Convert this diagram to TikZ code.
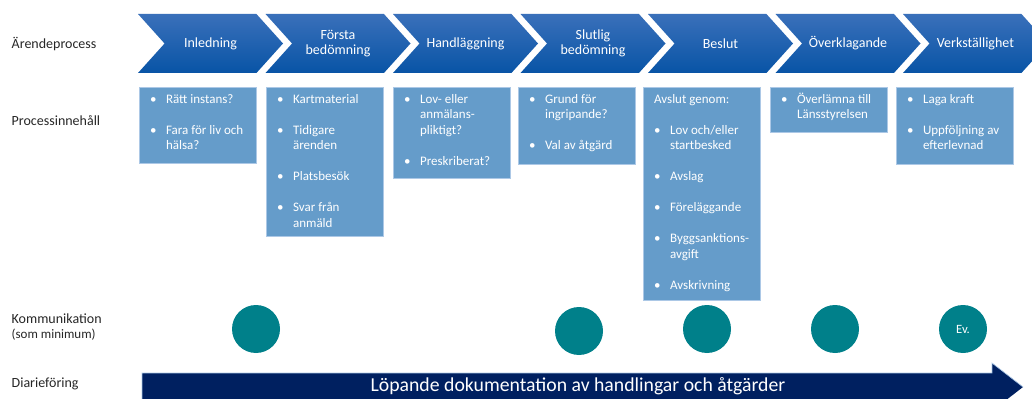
\documentclass[tikz,border=0pt]{standalone}
\usepackage{fontspec}
\setmainfont{Carlito}
\usetikzlibrary{shapes.symbols, positioning, calc}
\definecolor{FasTopp}{RGB}{58,112,186}
\definecolor{FasBotten}{RGB}{8,84,166}
\definecolor{LadaBla}{RGB}{101,156,202}
\definecolor{LadaKant}{RGB}{172,200,230}
\definecolor{KommTeal}{RGB}{0,128,138}
\definecolor{DiarieNavy}{RGB}{0,32,96}
\definecolor{EtikettGra}{RGB}{38,38,38}
\newcommand{\punkt}[1]{\par\hangindent=12pt\hangafter=1\noindent\strut\makebox[12pt][l]{\textbullet}#1\strut}
\newcommand{\mellan}{\par\vspace{11.6pt}}
\newcommand{\ladtext}[2]{\parbox[t][\dimexpr#1-7.8pt\relax][t]{87.75pt}{\fontsize{9.75}{11.6}\selectfont\raggedright\leftskip=8pt #2}}
\tikzset{
    fas/.style={
        signal, signal from=west, signal to=east, signal pointer angle=96,
        minimum width=108.75pt, minimum height=44.25pt, inner sep=0pt,
        top color=FasTopp, bottom color=FasBotten, text=white,
        font=\fontsize{10.5}{11.5}\selectfont, align=center
    },
    lada/.style={
        anchor=north west, fill=LadaBla, draw=LadaKant, line width=0.6pt,
        inner xsep=0pt, inner ysep=3.9pt, text=white
    },
    komm/.style={
        circle, fill=KommTeal, minimum size=36pt, inner sep=0pt,
        text=white, font=\fontsize{9.5}{11}\selectfont
    },
    etikett/.style={
        anchor=west, text=EtikettGra, font=\fontsize{10.5}{12}\selectfont, align=left
    }
}
\begin{document}
\begin{tikzpicture}[x=0.75pt, y=-0.75pt]
    \useasboundingbox (0,0) rectangle (1032,399);
    % radrubriker
    \node[etikett] (arende) at (7,44) {Ärendeprocess};
    \node[etikett] (innehall) at (7,121) {Processinnehåll};
    \node[etikett] (komm) at (7,327) {Kommunikation\\[-1pt]{\fontsize{9.75}{10}\selectfont (som minimum)}};
    \node[etikett] (diarie) at (7,384) {Diarieföring};
    % faserna
    \foreach \i/\namn in {1/Inledning, 2/{Första\\bedömning}, 3/Handläggning,
        4/{Slutlig\\bedömning}, 5/Beslut, 6/Överklagande, 7/Verkställighet}
        \node[fas] (fas\i) at ({210.5+127.5*(\i-1)},43.5) {\namn};
    % innehall per fas
    \node[lada] (ladaA) at (139,87) {\ladtext{57pt}{\punkt{Rätt instans?}\mellan
        \punkt{Fara för liv och\newline hälsa?}}};
    \node[lada] (ladaB) at (266,87) {\ladtext{111.75pt}{\punkt{Kartmaterial}\mellan
        \punkt{Tidigare\newline ärenden}\mellan
        \punkt{Platsbesök}\mellan
        \punkt{Svar från\newline anmäld}}};
    \node[lada] (ladaC) at (393,87) {\ladtext{68.25pt}{\punkt{Lov- eller\newline anmälans-\newline pliktigt?}\mellan
        \punkt{Preskriberat?}}};
    \node[lada] (ladaD) at (518,87) {\ladtext{57.75pt}{\punkt{Grund för\newline ingripande?}\mellan
        \punkt{Val av åtgärd}}};
    \node[lada] (ladaE) at (643,87) {\ladtext{159.75pt}{\noindent\strut Avslut genom:\mellan
        \punkt{Lov och/eller\newline startbesked}\mellan
        \punkt{Avslag}\mellan
        \punkt{Föreläggande}\mellan
        \punkt{Byggsanktions-\newline avgift}\mellan
        \punkt{Avskrivning}}};
    \node[lada] (ladaF) at (770,87) {\ladtext{33.75pt}{\punkt{Överlämna till\newline Länsstyrelsen}}};
    \node[lada] (ladaG) at (896,87) {\ladtext{57.75pt}{\punkt{Laga kraft}\mellan
        \punkt{Uppföljning av\newline efterlevnad}}};
    % kommunikation
    \node[komm] (k1) at (256,329) {};
    \node[komm] (k2) at (579,331) {};
    \node[komm] (k3) at (707,329) {};
    \node[komm] (k4) at (835,329) {};
    \node[komm] (k5) at (963,329) {Ev.};
    % diarieforing
    \fill[DiarieNavy] (142,373) -- (992,373) -- (992,363) -- (1023,387)
        -- (992,411) -- (992,401) -- (142,401) -- cycle;
    \draw[LadaKant, line width=0.5pt] (142,401) -- (142,373) -- (992,373) -- (992,363) -- (1023,387);
    \node[text=white, font=\fontsize{14.8}{16}\selectfont] (diarietext) at (578,386)
        {Löpande dokumentation av handlingar och åtgärder};
\end{tikzpicture}
\end{document}
